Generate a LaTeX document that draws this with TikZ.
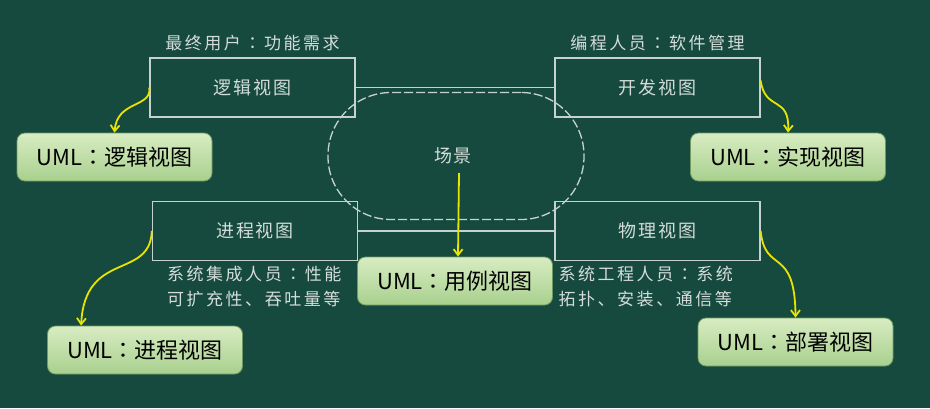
\documentclass[tikz,border=0pt]{standalone}
\usepackage{fontspec}
\setmainfont{Noto Sans CJK SC}
\newfontfamily\colonfont{Noto Sans CJK JP}
\usetikzlibrary{arrows.meta}
\definecolor{bg}{HTML}{174A3F}
\definecolor{frame}{HTML}{C6D2CE}
\definecolor{greytext}{HTML}{D4DDD9}
\definecolor{ylw}{HTML}{E8E400}
\definecolor{umltop}{HTML}{D8ECC2}
\definecolor{umlbot}{HTML}{A8D08E}
\definecolor{umledge}{HTML}{6E9A62}
\newcommand{\widecolon}{{\colonfont ：}}
\newcommand{\notecolon}{\hspace{3pt}{\colonfont ：}\hspace{3pt}}
\tikzset{
  viewbox/.style={draw=frame, line width=1.3pt, minimum width=205pt, minimum height=59pt,
    text=greytext, font=\fontsize{18}{20}\selectfont\addfontfeatures{LetterSpace=10}, inner sep=0pt},
  umlbox/.style={draw=umledge, line width=0.8pt, rounded corners=8pt, top color=umltop, bottom color=umlbot,
    minimum width=195pt, minimum height=48pt, text=black, font=\fontsize{22}{24}\selectfont, inner sep=0pt},
  note/.style={text=greytext, font=\fontsize{17}{25}\selectfont\addfontfeatures{LetterSpace=15}, inner sep=0pt, align=left},
  link/.style={draw=frame, line width=1.3pt},
  yarrow/.style={draw=ylw, line width=1.8pt, -{Straight Barb[length=6pt,width=9pt]}},
  stadium/.style={draw=frame, line width=1.3pt, dash pattern=on 9pt off 3pt, rounded corners=63pt,
    minimum width=256pt, minimum height=127pt},
  scenetext/.style={text=greytext, font=\fontsize{18}{20}\selectfont\addfontfeatures{LetterSpace=10}, inner sep=0pt}
}
\begin{document}
\begin{tikzpicture}[x=1pt,y=-1pt]
\fill[bg] (0,0) rectangle (930,408);
\useasboundingbox (0,0) rectangle (930,408);

% central scenario
\node[stadium] (scene) at (456,156) {};
\node[scenetext] (scenelbl) at (453,156) {场景};

% four views
\node[viewbox] (logic) at (252.5,87.5) {逻辑视图};
\node[viewbox] (dev) at (657.5,87.5) {开发视图};
\node[viewbox] (proc) at (255,231) {进程视图};
\node[viewbox] (phys) at (657.5,231) {物理视图};

\draw[link] (logic.east) -- (dev.west);
\draw[link] (proc.east) -- (phys.west);

% annotations
\node[note, anchor=south] (n1) at ([yshift=6pt]logic.north) {最终用户\notecolon 功能需求};
\node[note, anchor=south] (n2) at ([yshift=6pt]dev.north) {编程人员\notecolon 软件管理};
\node[note, anchor=north west] (n3) at ([xshift=15pt,yshift=-5pt]proc.south west) {系统集成人员\notecolon 性能\\可扩充性、吞吐量等};
\node[note, anchor=north west] (n4) at ([xshift=4pt,yshift=-5pt]phys.south west) {系统工程人员\notecolon 系统\\拓扑、安装、通信等};

% UML boxes
\node[umlbox] (u1) at (114.5,157) {UML\widecolon 逻辑视图};
\node[umlbox] (u2) at (788,157) {UML\widecolon 实现视图};
\node[umlbox] (u3) at (145,350) {UML\widecolon 进程视图};
\node[umlbox] (u4) at (795.5,342) {UML\widecolon 部署视图};
\node[umlbox] (u5) at (455,281) {UML\widecolon 用例视图};

% yellow arrows
\coordinate (s2) at ([yshift=7pt]dev.east);
\coordinate (e3) at ([xshift=34pt]u3.north west);
\coordinate (s5) at ([xshift=3pt,yshift=-17pt]scene.center);
\coordinate (e5) at ([xshift=3pt]u5.north);
\draw[yarrow] (logic.west) .. controls (152,108) and (117,100) .. (u1.north);
\draw[yarrow] (s2) .. controls (765,112) and (790,95) .. (u2.north);
\draw[yarrow] (proc.west) .. controls (150,280) and (85,250) .. (e3);
\draw[yarrow] (phys.east) .. controls (765,275) and (795,245) .. (u4.north);
\draw[yarrow] (s5) -- (e5);
\end{tikzpicture}
\end{document}
